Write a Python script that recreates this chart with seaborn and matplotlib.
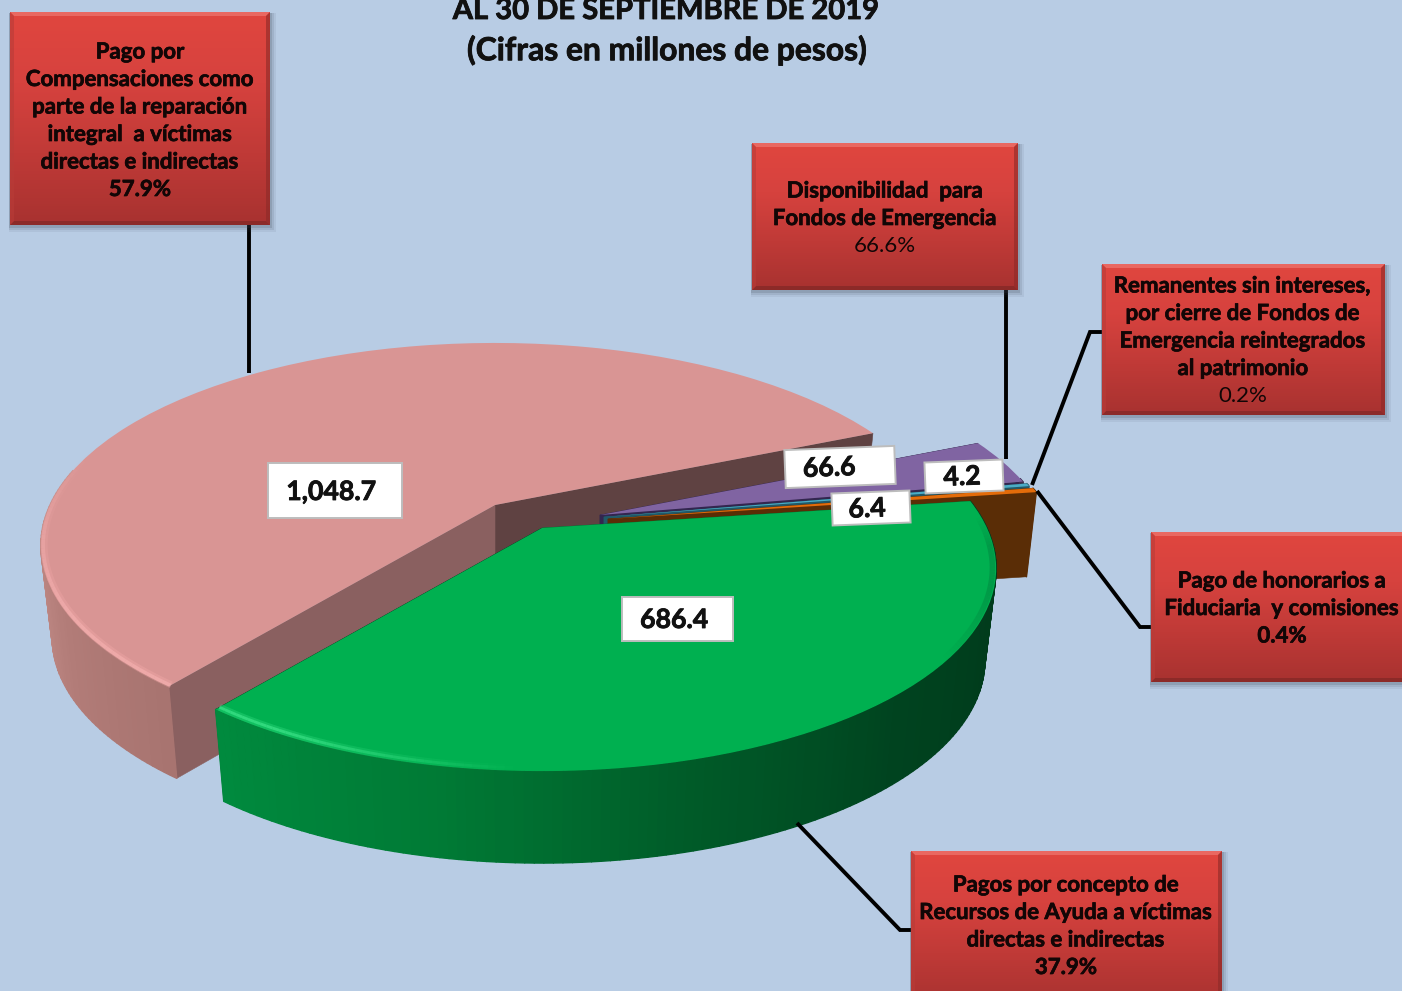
import numpy as np
import matplotlib
matplotlib.use("Agg")
import matplotlib.pyplot as plt
import matplotlib.patheffects as pe
import matplotlib.transforms as mtransforms
from matplotlib.collections import PolyCollection, LineCollection
from matplotlib.patches import Rectangle, Polygon
import seaborn as sns

# ---------- data ----------
categories = ["Compensaciones", "Recursos de Ayuda", "Honorarios", "Remanentes", "Fondos de Emergencia"]
values = [1048.7, 686.4, 6.4, 4.2, 66.6]
value_labels = ["1,048.7", "686.4", "6.4", "4.2", "66.6"]

title_lines = ["AL 30 DE SEPTIEMBRE DE 2019", "(Cifras en millones de pesos)"]

callout_pago = ["Pago por", "Compensaciones como", "parte de la reparación", "integral  a víctimas", "directas e indirectas"]
callout_disp = ["Disponibilidad  para", "Fondos de Emergencia"]
callout_rem = ["Remanentes sin intereses,", "por cierre de Fondos de", "Emergencia reintegrados", "al patrimonio"]
callout_hon = ["Pago de honorarios a", "Fiduciaria  y comisiones"]
callout_rec = ["Pagos por concepto de", "Recursos de Ayuda a víctimas", "directas e indirectas"]
percent_labels = ["57.9%", "66.6%", "0.2%", "0.4%", "37.9%"]

# ---------- styling / geometry ----------
BG = "#b8cce4"
FONT = "Lato"
top_colors = ["#d99594", "#00b050", "#e46c0a", "#4bacc6", "#8064a2"]
rim_ramps = [
    ["#c8928e", "#c08a86", "#b27c78", "#a87470"],
    ["#008a3e", "#007a35", "#005a28", "#00431f", "#003c1c", "#033c1d"],
    ["#5a2d06", "#5a2d06"],
    ["#215968", "#215968"],
    ["#3f3151", "#3f3151"],
]
wall_start = ["#5f4242", "#00431f", "#5a2d06", "#215968", "#33264f"]
wall_end = ["#8a6060", "#00702f", "#5a2d06", "#215968", "#33264f"]
centers = [(495, 505), (542, 528), (608, 519), (604, 517), (600, 515)]
floor_z = [1.0, 1.0, 0.92, 0.92, 0.92]
draw_layers = [0, 4, 3, 2, 1]
START = 23.5
RADIUS, TILT, PERSP, DEPTH, SHRINK = 445.0, 0.437, 0.2, 92.0, 0.025

sns.set_theme(style="white", rc={"figure.facecolor": BG, "axes.facecolor": BG})
plt.rcParams["font.family"] = [FONT, "DejaVu Sans"]


class TiltedDisc(mtransforms.Transform):
    """Unit pie plane to screen pixels, with perspective; z=1 is the underside."""
    input_dims = 2
    output_dims = 2
    is_separable = False
    has_inverse = False

    def __init__(self, center, z=0.0):
        super().__init__()
        self.center, self.z = center, z

    def transform_non_affine(self, xy):
        xy = np.asarray(xy, float)
        u, v = xy[:, 0], xy[:, 1]
        s = 1.0 / (1.0 + PERSP * v)
        x = self.center[0] + RADIUS * u * s * (1 - SHRINK * self.z)
        y = self.center[1] - RADIUS * TILT * v * s + DEPTH * self.z
        return np.column_stack([x, y])


fig = plt.figure(figsize=(14.02, 9.91), dpi=100)
ax = fig.add_axes([0, 0, 1, 1])
wedges, _ = ax.pie(values, startangle=START, counterclock=True, colors=top_colors,
                   wedgeprops={"linewidth": 0})
ax.set_aspect("auto")
ax.set_xlim(0, 1402)
ax.set_ylim(991, 0)
ax.axis("off")
fig.patch.set_facecolor(BG)


def unit(deg, r=1.0):
    a = np.radians(deg)
    return np.column_stack([r * np.cos(a), r * np.sin(a)])


def radial_wall(center, theta, color, floor, z):
    top = TiltedDisc(center, 0).transform(np.vstack([[0, 0], unit(theta)]))
    bot = TiltedDisc(center, floor).transform(np.vstack([[0, 0], unit(theta)]))
    ax.add_patch(Polygon(np.vstack([top, bot[::-1]]), closed=True, fc=color, ec=color, lw=0.4, zorder=z))


def rim(center, t1, t2, ramp, floor, z):
    """Outer side of a slice, only where it faces the viewer."""
    angles = np.linspace(t1, t2, max(int(t2 - t1), 3))
    angles = angles[np.sin(np.radians(angles)) < 0.2]
    if len(angles) < 2:
        return
    top = TiltedDisc(center, 0).transform(unit(angles))
    bot = TiltedDisc(center, floor).transform(unit(angles))
    quads = [np.array([top[i], top[i + 1], bot[i + 1], bot[i]]) for i in range(len(angles) - 1)]
    cols = sns.blend_palette(ramp, n_colors=len(quads))
    ax.add_collection(PolyCollection(quads, facecolors=cols, edgecolors=cols, linewidths=1.0, zorder=z), autolim=False)


def edge_band(center, t1, t2, color, alpha_fn, r, lw, z):
    angles = np.linspace(t1, t2, 160)
    pts = TiltedDisc(center, 0).transform(unit(angles, r))
    segs = [pts[i:i + 2] for i in range(len(pts) - 1)]
    rgba = np.tile(matplotlib.colors.to_rgba(color), (len(segs), 1))
    rgba[:, 3] = alpha_fn(np.radians(angles[:-1]))
    ax.add_collection(LineCollection(segs, colors=rgba, linewidths=lw, zorder=z, capstyle="butt"), autolim=False)


for layer, i in enumerate(draw_layers):
    w, c = wedges[i], centers[i]
    base = 2 + layer * 2
    w.set_transform(TiltedDisc(c) + ax.transData)
    w.set_zorder(base + 0.5)
    radial_wall(c, w.theta1, wall_start[i], floor_z[i], base)
    radial_wall(c, w.theta2, wall_end[i], floor_z[i], base + 0.1)
    rim(c, w.theta1, w.theta2, rim_ramps[i], floor_z[i], base + 0.2)

# bevel highlights along the near edge of the two big slices
pink, green = wedges[0], wedges[1]
pink_a = lambda t: np.clip((0.3 - np.sin(t)) / 0.8, 0, 1)
edge_band(centers[0], pink.theta1, pink.theta2, "#f4aaaa", lambda t: 0.35 * pink_a(t), 0.993, 5, 3.0)
edge_band(centers[0], pink.theta1, pink.theta2, "#f8b4b4", lambda t: 0.55 * pink_a(t), 0.995, 2.5, 3.1)
green_a = lambda t: np.clip((-0.05 - np.cos(t)) / 0.45, 0, 1)
edge_band(centers[1], green.theta1, green.theta2, "#35e083", lambda t: 0.35 * green_a(t), 0.99, 5, 11)
edge_band(centers[1], green.theta1, green.theta2, "#45ea90", lambda t: 0.6 * green_a(t), 0.99, 2, 11.1)
edge_a = lambda t: np.clip((np.cos(t) - 0.8) / 0.15, 0, 1) * np.clip((0.05 - np.sin(t)) / 0.15, 0, 1)
edge_band(centers[1], green.theta1, green.theta2, "#00853f", lambda t: 0.5 * edge_a(t), 0.992, 4, 11)

# leader lines
leaders = [
    [(249, 225), (249, 373)],
    [(1006, 290), (1006, 459)],
    [(1102, 332), (1090, 332), (1032, 485)],
    [(1151, 627), (1140, 627), (1037, 491)],
    [(911, 930), (900, 930), (797, 823)],
]
for pts in leaders:
    xs, ys = zip(*pts)
    ax.plot(xs, ys, color="black", lw=2.8, zorder=20, solid_capstyle="butt", solid_joinstyle="miter")

# callouts
box_cmap = sns.blend_palette(["#e0463f", "#d6423e", "#c03a37", "#a83230"], as_cmap=True)
gradient = np.linspace(0, 1, 128).reshape(-1, 1)
heavy = [pe.withStroke(linewidth=0.5, foreground="#120606")]


def callout(x0, y0, x1, y1, lines, pct, pct_bold, first_y, step=27.5, cx=None):
    cx = (x0 + x1) / 2 if cx is None else cx
    for k, a in ((7, 0.08), (5, 0.12), (3, 0.18)):
        ax.add_patch(Rectangle((x0 - 1, y0 + 1), x1 - x0 + k, y1 - y0 + k - 1, fc="#404a5a", ec="none", alpha=a, zorder=21))
    ax.imshow(gradient, extent=(x0, x1, y1, y0), cmap=box_cmap, aspect="auto", zorder=22, interpolation="bilinear")
    b = 4
    bevels = [
        ([(x0, y0), (x1, y0), (x1 - b, y0 + b), (x0 + b, y0 + b)], "#f0807a", 0.6),
        ([(x0, y1), (x1, y1), (x1 - b, y1 - b), (x0 + b, y1 - b)], "#7a2523", 0.6),
        ([(x0, y0), (x0 + b, y0 + b), (x0 + b, y1 - b), (x0, y1)], "#b83c38", 0.6),
        ([(x1, y0), (x1 - b, y0 + b), (x1 - b, y1 - b), (x1, y1)], "#8c2a28", 0.6),
    ]
    for pts, col, alpha in bevels:
        ax.add_patch(Polygon(pts, closed=True, fc=col, ec="none", alpha=alpha, zorder=23))
    for n, line in enumerate(lines):
        ax.text(cx, first_y + n * step, line, ha="center", va="center", fontsize=16, fontweight="bold",
                color="#120606", zorder=24, path_effects=heavy)
    last = ax.text(cx, first_y + len(lines) * step, pct, ha="center", va="center", fontsize=16,
                   fontweight="bold" if pct_bold else "normal", color="#120606", zorder=24)
    if pct_bold:
        last.set_path_effects(heavy)


callout(10, 12, 270, 225, callout_pago, percent_labels[0], True, 52, cx=140)
callout(752, 143, 1018, 290, callout_disp, percent_labels[1], False, 191, cx=885)
callout(1102, 264, 1385, 415, callout_rem, percent_labels[2], False, 286, cx=1243)
callout(1151, 532, 1412, 682, callout_hon, percent_labels[3], True, 581, cx=1282)
callout(911, 851, 1222, 1005, callout_rec, percent_labels[4], True, 885, cx=1066)

# value labels
label_order = [0, 1, 4, 3, 2]
label_boxes = [(268, 463, 134, 55, 0), (622, 597, 111, 44, 0), (785, 448, 110, 38, -2.2), (925, 461, 78, 31, -2.2), (832, 492, 78, 32, -2.2)]
label_text_xy = [(331, 492), (674, 620), (829, 468), (962, 477), (867, 509)]
dark = [pe.withStroke(linewidth=0.6, foreground="#111111")]
for i, (bx, txy) in zip(label_order, zip(label_boxes, label_text_xy)):
    x, y, wd, ht, ang = bx
    ax.add_patch(Rectangle((x, y), wd, ht, angle=ang, rotation_point="center", fc="white", ec="#bdbdbd", lw=1.4, zorder=18))
    ax.text(*txy, value_labels[i], ha="center", va="center", fontsize=19.2, fontweight="bold", color="#111111",
            rotation=-ang, zorder=19, path_effects=dark)

# title
for line, y, size in zip(title_lines, (11, 50), (21, 22.9)):
    ax.text(666, y, line, ha="center", va="center", fontsize=size, fontweight="bold", color="#111111", zorder=24, path_effects=dark)

ax.set_xlim(0, 1402)
ax.set_ylim(991, 0)
fig.savefig("out.png", dpi=100, facecolor=BG)
